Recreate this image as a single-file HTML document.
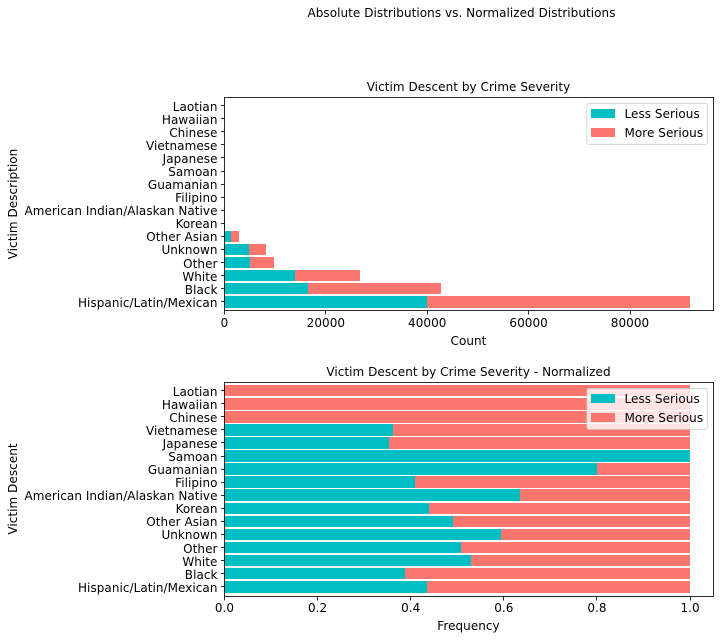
<!DOCTYPE html>
<html lang="en">
<head>
<meta charset="utf-8">
<title>Absolute Distributions vs. Normalized Distributions</title>
<style>
html,body{margin:0;padding:0;background:#fff;width:720px;height:640px;overflow:hidden}
svg{display:block}
text{font-family:"DejaVu Sans","Liberation Sans",sans-serif;font-size:12px;fill:#000;letter-spacing:0.05px}
</style>
</head>
<body>
<svg id="figure" width="720" height="640" viewBox="0 0 720 640" xmlns="http://www.w3.org/2000/svg">
  <text x="461.5" y="17" text-anchor="middle">Absolute Distributions vs. Normalized Distributions</text>
  <text x="468.5" y="91" text-anchor="middle">Victim Descent by Crime Severity</text>
  <text x="468.5" y="345" text-anchor="middle">Count</text>
  <text transform="translate(17,204) rotate(-90)" text-anchor="middle">Victim Description</text>
  <text x="468.5" y="376" text-anchor="middle">Victim Descent by Crime Severity - Normalized</text>
  <text x="468.5" y="630" text-anchor="middle">Frequency</text>
  <text transform="translate(17,489) rotate(-90)" text-anchor="middle">Victim Descent</text>
  <g id="top-chart"></g>
  <g id="bottom-chart"></g>
  <g>
    <rect x="586.9" y="103.5" width="120.4" height="40.8" rx="2" fill="#fff" fill-opacity="0.8" stroke="#ccc" stroke-width="0.8"/>
    <rect x="591" y="109" width="24" height="9" fill="#00bfc4"/>
    <text x="624.5" y="118">Less Serious</text>
    <rect x="591" y="128" width="24" height="9" fill="#fb766e"/>
    <text x="624.5" y="137">More Serious</text>
  </g>
  <g>
    <rect x="586.9" y="388.5" width="120.4" height="40.8" rx="2" fill="#fff" fill-opacity="0.8" stroke="#ccc" stroke-width="0.8"/>
    <rect x="591" y="394" width="24" height="9" fill="#00bfc4"/>
    <text x="624.5" y="403">Less Serious</text>
    <rect x="591" y="413" width="24" height="9" fill="#fb766e"/>
    <text x="624.5" y="422">More Serious</text>
  </g>
</svg>
<script>
const categories = ["Hispanic/Latin/Mexican","Black","White","Other","Unknown","Other Asian","Korean","American Indian/Alaskan Native","Filipino","Guamanian","Samoan","Japanese","Vietnamese","Chinese","Hawaiian","Laotian"];
const countLessSerious = [40100,16500,14100,5050,4900,1380,100,14,18,4,3,20,20,0,0,0];
const countMoreSerious = [51800,26300,12800,4790,3360,1560,80,8,26,1,0,36,35,50,20,10];
const freqLessSerious = [0.437,0.388,0.530,0.508,0.594,0.491,0.441,0.635,0.411,0.802,1.000,0.355,0.363,0,0,0];
const freqMoreSerious = [0.563,0.612,0.470,0.492,0.406,0.509,0.559,0.365,0.589,0.198,0,0.645,0.637,1,1,1];
const countTicks = [0,20000,40000,60000,80000];
const freqTicks = [0,0.2,0.4,0.6,0.8,1];
const freqTickLabels = ["0.0","0.2","0.4","0.6","0.8","1.0"];

const SVG_NS = "http://www.w3.org/2000/svg";
const AXIS_LEFT = 224.5;
const AXIS_RIGHT = 713.5;
const BAND = 13.067;
const BAR_H = 11.55;
const LINE = "rgba(0,0,0,0.82)";

function make(parent, tag, props) {
  const el = document.createElementNS(SVG_NS, tag);
  for (const k in props) el.setAttribute(k, props[k]);
  parent.appendChild(el);
  return el;
}

function drawChart(opts) {
  const g = document.getElementById(opts.id);
  const xTick = v => AXIS_LEFT + v * opts.pxPerUnit;
  const xEdge = v => Math.round(224 + v * opts.pxPerUnit);
  const barTop = i => opts.firstBarTop - i * BAND;

  categories.forEach((cat, i) => {
    const y0 = Math.round(barTop(i));
    const y1 = Math.round(barTop(i) + BAR_H);
    const center = barTop(i) + BAR_H / 2;
    const less = opts.less[i];
    const more = opts.more[i];
    const lessRect = make(g, "rect", {x: xEdge(0), y: y0, width: xEdge(less) - xEdge(0), height: y1 - y0, fill: "#00bfc4"});
    
    
    const moreRect = make(g, "rect", {x: xEdge(less), y: y0, width: xEdge(less + more) - xEdge(less), height: y1 - y0, fill: "#fb766e"});
    
    

    const tickY = Math.floor(center) + 0.5;
    const tick = make(g, "line", {x1: AXIS_LEFT - 3.5, x2: AXIS_LEFT, y1: tickY, y2: tickY, stroke: LINE, "stroke-width": 1});
    
    
    const label = make(g, "text", {x: AXIS_LEFT - 7, y: Math.round(center + 5), "text-anchor": "end"});
    label.textContent = cat;
    
    
  });

  opts.ticks.forEach((t, i) => {
    const tx = Math.floor(xTick(t)) + 0.5;
    const tick = make(g, "line", {x1: tx, x2: tx, y1: opts.bottom, y2: opts.bottom + 4, stroke: LINE, "stroke-width": 1});
    
    
    const label = make(g, "text", {x: xTick(t), y: opts.labelY, "text-anchor": "middle"});
    label.textContent = opts.tickLabels ? opts.tickLabels[i] : String(t);
    
    
  });

  const frame = make(g, "rect", {x: AXIS_LEFT, y: opts.top, width: AXIS_RIGHT - AXIS_LEFT, height: opts.bottom - opts.top, fill: "none", stroke: LINE, "stroke-width": 1});
  
  
}

drawChart({id: "top-chart", less: countLessSerious, more: countMoreSerious, ticks: countTicks, pxPerUnit: 405.5 / 80000, top: 97.5, bottom: 310.5, labelY: 327, firstBarTop: 295.95});
drawChart({id: "bottom-chart", less: freqLessSerious, more: freqMoreSerious, ticks: freqTicks, tickLabels: freqTickLabels, pxPerUnit: 465.6, top: 382.5, bottom: 596.5, labelY: 612, firstBarTop: 580.95});
</script>
</body>
</html>
